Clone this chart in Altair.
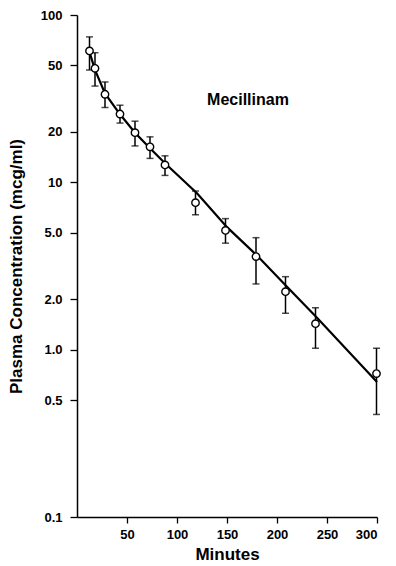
import altair as alt
import pandas as pd

# Observed mean plasma concentrations (mcg/ml) with error bars
minutes = [12.5, 18, 28, 43, 58, 73, 88, 118.5, 148.5, 179, 208.5, 238.5, 299.5]
conc = [61, 48, 33.6, 25.6, 19.8, 16.3, 12.7, 7.56, 5.16, 3.6, 2.22, 1.43, 0.72]
err_hi = [74, 59.5, 39.8, 28.9, 23.2, 18.7, 14.4, 8.87, 6.07, 4.67, 2.73, 1.78, 1.02]
err_lo = [46.9, 37.6, 28, 22.6, 16.5, 13.9, 11.0, 6.4, 4.33, 2.47, 1.65, 1.02, 0.41]

# Fitted curve
fit_minutes = [12.5, 18, 28, 43, 58, 73, 88, 120, 150, 180, 210, 240, 300]
fit_conc = [60, 47, 34, 25.5, 19.8, 16, 13, 8.6, 5.4, 3.65, 2.38, 1.55, 0.64]

y_ticks = [0.1, 0.5, 1, 2, 5, 10, 20, 50, 100]
x_ticks = [50, 100, 150, 200, 250, 300]

label_text = ["Mecillinam"]
label_x = [171]
label_y = [31]

FONT = "Liberation Sans"

obs = pd.DataFrame({"t": minutes, "c": conc, "hi": err_hi, "lo": err_lo})
fit = pd.DataFrame({"t": fit_minutes, "c": fit_conc})
lab = pd.DataFrame({"text": label_text, "t": label_x, "c": label_y})

xs = alt.Scale(domain=[0, 300], nice=False, zero=False)
ys = alt.Scale(type="log", domain=[0.1, 100], nice=False)

x_axis = alt.Axis(
    values=x_ticks, title="Minutes", grid=False, tickSize=6,
    labelFont=FONT, labelFontWeight="bold", labelFontSize=13, labelColor="black",
    titleFont=FONT, titleFontWeight="bold", titleFontSize=17, titleColor="black",
    titlePadding=5, domainColor="black", domainWidth=1.5, tickColor="black",
    tickWidth=1.3, labelPadding=5,
)
y_axis = alt.Axis(
    values=y_ticks, title="Plasma Concentration (mcg/ml)", grid=False, tickSize=7,
    labelExpr="datum.value >= 10 ? format(datum.value, 'd') : format(datum.value, '.1f')",
    labelFont=FONT, labelFontWeight="bold", labelFontSize=13, labelColor="black",
    titleFont=FONT, titleFontWeight="bold", titleFontSize=17, titleColor="black",
    titlePadding=15, domainColor="black", domainWidth=1.5, tickColor="black",
    tickWidth=1.3, labelPadding=8,
)

line = alt.Chart(fit).mark_line(color="black", strokeWidth=2.2).encode(
    x=alt.X("t:Q", scale=xs, axis=x_axis),
    y=alt.Y("c:Q", scale=ys, axis=y_axis),
)

rules = alt.Chart(obs).mark_rule(color="black", strokeWidth=1.5).encode(
    x="t:Q", y="lo:Q", y2="hi:Q"
)
cap_hi = alt.Chart(obs).mark_tick(color="black", orient="horizontal", size=7, thickness=1.5).encode(
    x="t:Q", y="hi:Q"
)
cap_lo = alt.Chart(obs).mark_tick(color="black", orient="horizontal", size=7, thickness=1.5).encode(
    x="t:Q", y="lo:Q"
)
points = alt.Chart(obs).mark_point(
    shape="circle", filled=True, fill="white", stroke="black", strokeWidth=1.4, size=55, opacity=1
).encode(x="t:Q", y="c:Q")

text = alt.Chart(lab).mark_text(
    font=FONT, fontWeight="bold", fontSize=16, color="black", baseline="middle", align="center"
).encode(x="t:Q", y="c:Q", text="text:N")

chart = alt.layer(line, rules, cap_hi, cap_lo, points, text).properties(
    width=300, height=502,
    autosize=alt.AutoSizeParams(type="none"),
    padding={"left": 69, "top": 7, "right": 11, "bottom": 49},
).configure_view(stroke=None)

chart.save("out.html", embed_options={"renderer": "svg", "actions": False})
